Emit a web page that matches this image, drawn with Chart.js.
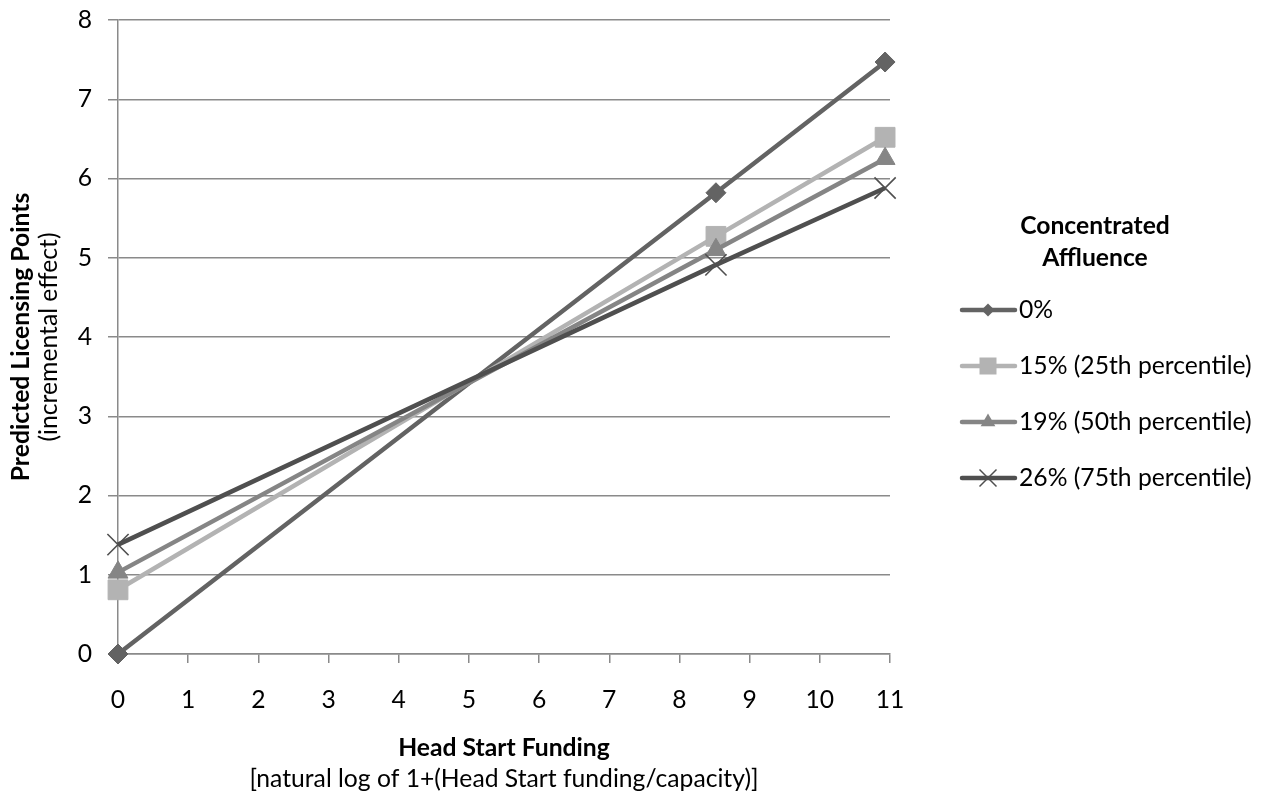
<!DOCTYPE html>
<html><head><meta charset="utf-8">
<script src="https://cdn.jsdelivr.net/npm/chart.js@4"></script>
<style>html,body{margin:0;padding:0;background:#fff}#wrap{width:1267px;height:799px;position:relative}canvas{display:block}</style>
</head><body><div id="wrap"><canvas id="c" width="1267" height="799"></canvas></div>
<script>
const xValues = [0, 8.52, 10.93];
const seriesNames = ['0%', '15% (25th percentile)', '19% (50th percentile)', '26% (75th percentile)'];
const s0 = [0, 5.82, 7.47];
const s15 = [0.81, 5.27, 6.52];
const s19 = [1.03, 5.10, 6.25];
const s26 = [1.38, 4.91, 5.88];
const xTicks = [0, 1, 2, 3, 4, 5, 6, 7, 8, 9, 10, 11];
const yTicks = [0, 1, 2, 3, 4, 5, 6, 7, 8];
const legendTitle = ['Concentrated', 'Affluence'];
const xTitle = ['Head Start Funding', '[natural log of 1+(Head Start funding/capacity)]'];
const yTitle = ['Predicted Licensing Points', '(incremental effect)'];

const FONT = 'Lato';
const FS = 24.7;
const colors = ['#636363', '#b3b3b3', '#858585', '#4f4f4f'];
const styles = ['rectRot', 'rect', 'triangle', 'crossRot'];
const radii = [10, 14, 11.5, 15];
const allSeries = [s0, s15, s19, s26];

const datasets = allSeries.map((s, i) => ({
  label: seriesNames[i],
  data: s.map((v, j) => ({x: xValues[j], y: v})),
  borderColor: colors[i],
  backgroundColor: colors[i],
  borderWidth: 4.5,
  pointStyle: styles[i],
  pointRadius: radii[i],
  pointBorderWidth: i === 3 ? 1.6 : 1,
  pointBorderColor: colors[i],
  pointBackgroundColor: colors[i],
  showLine: true,
  tension: 0,
  clip: false,
  order: 3 - i
}));

function marker(ctx, style, x, y, r, color) {
  ctx.save();
  ctx.fillStyle = color; ctx.strokeStyle = color;
  ctx.beginPath();
  if (style === 'rectRot') {
    ctx.moveTo(x, y - r); ctx.lineTo(x + r, y); ctx.lineTo(x, y + r); ctx.lineTo(x - r, y); ctx.closePath(); ctx.fill();
  } else if (style === 'rect') {
    ctx.rect(x - r, y - r, 2 * r, 2 * r); ctx.fill();
  } else if (style === 'triangle') {
    ctx.moveTo(x, y - r); ctx.lineTo(x + r * 0.866, y + r * 0.5); ctx.lineTo(x - r * 0.866, y + r * 0.5); ctx.closePath(); ctx.fill();
  } else {
    ctx.lineWidth = 1.5;
    ctx.moveTo(x - r, y - r); ctx.lineTo(x + r, y + r); ctx.moveTo(x + r, y - r); ctx.lineTo(x - r, y + r); ctx.stroke();
  }
  ctx.restore();
}

const extras = {
  id: 'extras',
  afterDraw(chart) {
    const ctx = chart.ctx;
    const ca = chart.chartArea;
    ctx.save();
    ctx.fillStyle = '#000';
    ctx.textAlign = 'center';
    ctx.textBaseline = 'middle';
    const cx = (ca.left + ca.right) / 2;
    ctx.font = 'bold ' + FS + 'px ' + FONT;
    ctx.fillText(xTitle[0], cx, 748);
    ctx.font = FS + 'px ' + FONT;
    ctx.fillText(xTitle[1], cx, 779);
    const cy = (ca.top + ca.bottom) / 2;
    ctx.save();
    ctx.translate(21, cy);
    ctx.rotate(-Math.PI / 2);
    ctx.font = 'bold ' + FS + 'px ' + FONT;
    ctx.fillText(yTitle[0], 0, 0);
    ctx.restore();
    ctx.save();
    ctx.translate(49, cy);
    ctx.rotate(-Math.PI / 2);
    ctx.font = FS + 'px ' + FONT;
    ctx.fillText(yTitle[1], 0, 0);
    ctx.restore();
    ctx.font = 'bold ' + FS + 'px ' + FONT;
    ctx.fillText(legendTitle[0], 1095, 226);
    ctx.fillText(legendTitle[1], 1095, 258);
    const lr = [6.5, 8.5, 8.5, 8.5];
    chart.data.datasets.forEach((ds, i) => {
      const y = 310 + i * 56;
      ctx.save();
      ctx.strokeStyle = ds.borderColor;
      ctx.lineWidth = 4.5;
      ctx.lineCap = 'round';
      ctx.beginPath(); ctx.moveTo(962, y); ctx.lineTo(1015, y); ctx.stroke();
      ctx.restore();
      marker(ctx, ds.pointStyle, 988, y, lr[i], ds.borderColor);
      ctx.textAlign = 'left';
      ctx.font = FS + 'px ' + FONT;
      ctx.fillStyle = '#000';
      ctx.fillText(ds.label, 1019, y);
    });
    ctx.restore();
  }
};

const gridColor = '#8a8a8a';
new Chart(document.getElementById('c'), {
  type: 'scatter',
  data: {datasets},
  options: {
    responsive: false,
    animation: false,
    devicePixelRatio: 1,
    layout: {padding: {left: 0, right: 377, top: 20, bottom: 0}},
    plugins: {legend: {display: false}, tooltip: {enabled: false}, title: {display: false}},
    scales: {
      x: {
        type: 'linear', min: 0, max: 11,
        afterBuildTicks: s => { s.ticks = xTicks.map(v => ({value: v})); },
        afterFit: s => { s.height = 145; s.paddingLeft = 0; s.paddingRight = 0; },
        ticks: {font: {family: FONT, size: FS}, color: '#000', padding: 22, maxRotation: 0, autoSkip: false},
        grid: {drawOnChartArea: false, drawTicks: true, tickLength: 9, color: gridColor, lineWidth: 1.5},
        border: {color: gridColor, width: 1.5}
      },
      y: {
        type: 'linear', min: 0, max: 8,
        afterBuildTicks: s => { s.ticks = yTicks.map(v => ({value: v})); },
        afterFit: s => { s.width = 118; s.paddingTop = 0; s.paddingBottom = 0; },
        ticks: {font: {family: FONT, size: FS}, color: '#000', padding: 16},
        grid: {drawOnChartArea: true, drawTicks: true, tickLength: 10, color: gridColor, lineWidth: 1.5},
        border: {color: gridColor, width: 1.5}
      }
    }
  },
  plugins: [extras]
});
</script></body></html>
